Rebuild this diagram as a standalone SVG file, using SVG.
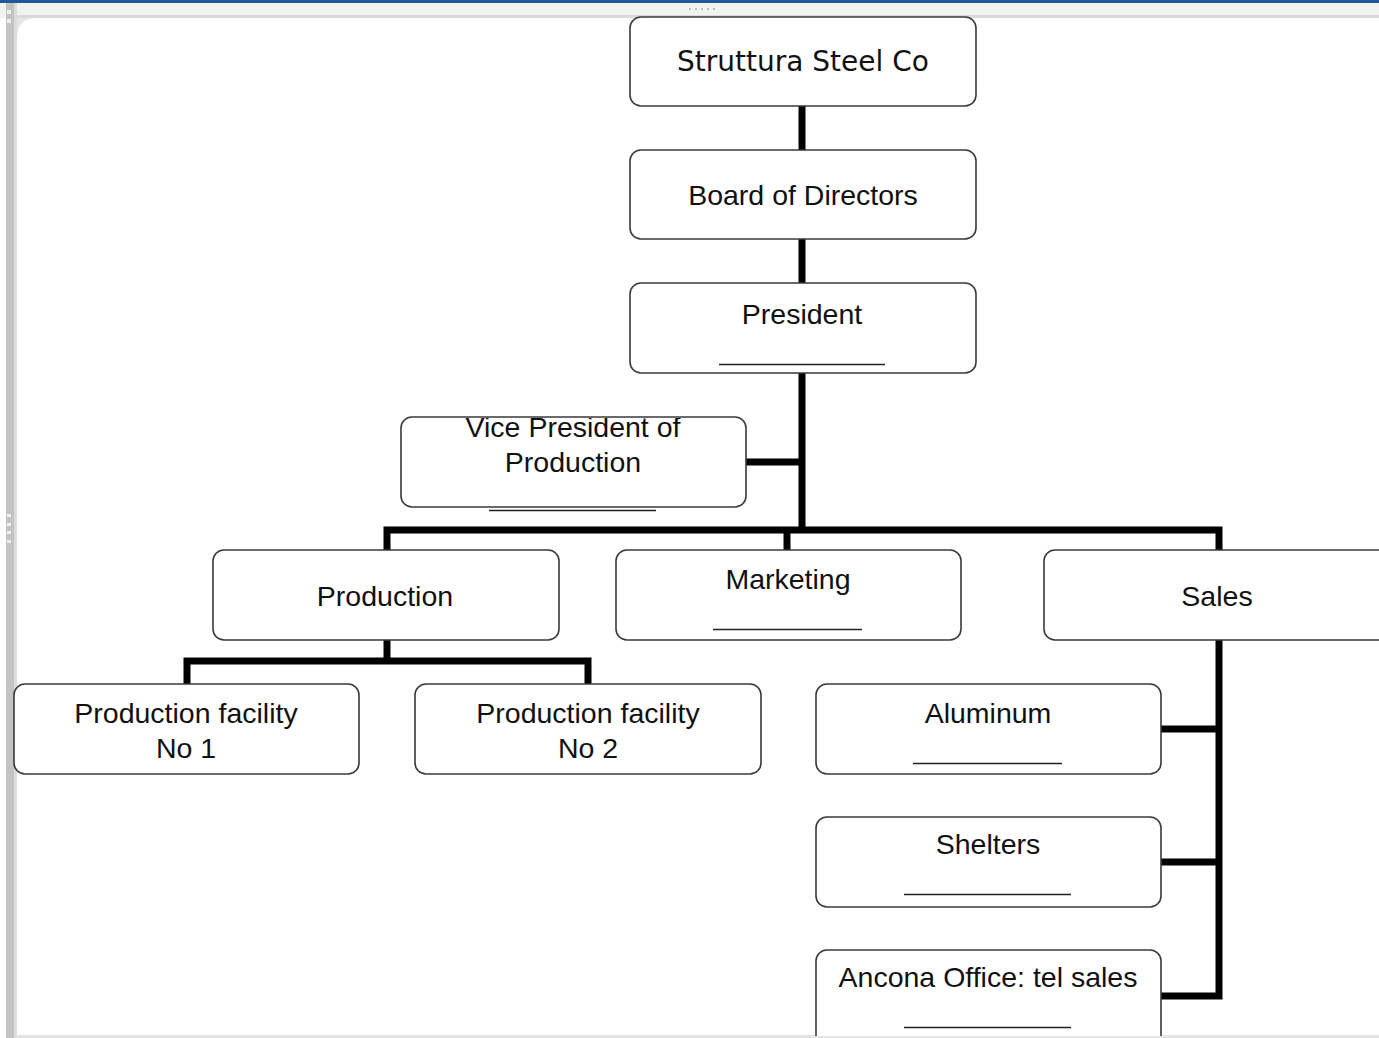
<svg xmlns="http://www.w3.org/2000/svg" width="1379" height="1038" viewBox="0 0 1379 1038">
<style>
.box{fill:#fff;stroke:#3a3a3a;stroke-width:1.6}
.t{font-family:"Liberation Sans",Arial,sans-serif;font-size:28.5px;fill:#111;text-anchor:middle}
.t2{font-family:"DejaVu Sans",Verdana,sans-serif;font-size:28px;fill:#111;text-anchor:middle}
.ul{stroke:#222;stroke-width:1.6}
.c{stroke:#000;stroke-width:7;fill:none;stroke-linecap:butt}
</style>
<defs>
<clipPath id="vpclip"><rect x="401" y="418" width="345" height="89"/></clipPath>
</defs>
<rect width="1379" height="1038" fill="#ffffff"/>
<rect x="0" y="0" width="1379" height="3" fill="#1d5a96"/>
<rect x="0" y="3" width="1379" height="15" fill="#f2f2f2"/>
<rect x="16" y="15" width="1363" height="3" fill="#dadada"/>
<rect x="6" y="3" width="10" height="1035" fill="#c3c3c3"/>
<rect x="14" y="3" width="3" height="1035" fill="#dcdcdc"/>
<path d="M17 38 Q17 18 37 18 L17 18 Z" fill="#e6e6e6"/>
<rect x="16" y="1035" width="1363" height="3" fill="#e4e4e4"/>
<g fill="#eeeeee"><rect x="7" y="514" width="4" height="3"/><rect x="7" y="523" width="4" height="3"/><rect x="7" y="531" width="4" height="3"/><rect x="7" y="540" width="4" height="3"/><rect x="7" y="10" width="4" height="4"/><rect x="7" y="19" width="4" height="4"/></g>
<g fill="#bbbbbb"><rect x="689" y="8" width="2" height="2"/><rect x="695" y="8" width="2" height="2"/><rect x="701" y="8" width="2" height="2"/><rect x="707" y="8" width="2" height="2"/><rect x="713" y="8" width="2" height="2"/></g>

<g id="connectors">
<line class="c" x1="802" y1="106" x2="802" y2="150"/>
<line class="c" x1="802" y1="239" x2="802" y2="283"/>
<line class="c" x1="802" y1="373" x2="802" y2="533"/>
<line class="c" x1="746" y1="462" x2="802" y2="462"/>
<polyline class="c" points="387,551 387,530 1219,530 1219,551"/>
<line class="c" x1="787" y1="530" x2="787" y2="551"/>
<polyline class="c" points="187,685 187,661 588,661 588,685"/>
<line class="c" x1="387" y1="640" x2="387" y2="661"/>
<polyline class="c" points="1219,640 1219,996 1161,996"/>
<line class="c" x1="1161" y1="729" x2="1219" y2="729"/>
<line class="c" x1="1161" y1="862" x2="1219" y2="862"/>
</g>

<g id="n-struttura"><rect class="box" x="630" y="17" width="346" height="89" rx="11"/><text class="t2" x="803" y="71">Struttura Steel Co</text></g>
<g id="n-board"><rect class="box" x="630" y="150" width="346" height="89" rx="11"/><text class="t" x="803" y="205">Board of Directors</text></g>
<g id="n-president"><rect class="box" x="630" y="283" width="346" height="90" rx="11"/><text class="t" x="802" y="324">President</text><line class="ul" x1="719" y1="364.5" x2="885" y2="364.5"/></g>
<g id="n-vp"><rect class="box" x="401" y="417" width="345" height="90" rx="11"/><text class="t" x="573" y="437" clip-path="url(#vpclip)">Vice President of</text><text class="t" x="573" y="472">Production</text><line class="ul" x1="489" y1="510.5" x2="656" y2="510.5"/></g>
<g id="n-production"><rect class="box" x="213" y="550" width="346" height="90" rx="11"/><text class="t" x="385" y="606">Production</text></g>
<g id="n-marketing"><rect class="box" x="616" y="550" width="345" height="90" rx="11"/><text class="t" x="788" y="589">Marketing</text><line class="ul" x1="713" y1="629.5" x2="862" y2="629.5"/></g>
<g id="n-sales"><rect class="box" x="1044" y="550" width="360" height="90" rx="11"/><text class="t" x="1217" y="606">Sales</text></g>
<g id="n-pf1"><rect class="box" x="14" y="684" width="345" height="90" rx="11"/><text class="t" x="186" y="723">Production facility</text><text class="t" x="186" y="758">No 1</text></g>
<g id="n-pf2"><rect class="box" x="415" y="684" width="346" height="90" rx="11"/><text class="t" x="588" y="723">Production facility</text><text class="t" x="588" y="758">No 2</text></g>
<g id="n-aluminum"><rect class="box" x="816" y="684" width="345" height="90" rx="11"/><text class="t" x="988" y="723">Aluminum</text><line class="ul" x1="913" y1="763.5" x2="1062" y2="763.5"/></g>
<g id="n-shelters"><rect class="box" x="816" y="817" width="345" height="90" rx="11"/><text class="t" x="988" y="854">Shelters</text><line class="ul" x1="904" y1="894.5" x2="1071" y2="894.5"/></g>
<g id="n-ancona"><rect class="box" x="816" y="950" width="345" height="100" rx="11"/><text class="t" x="988" y="987">Ancona Office: tel sales</text><line class="ul" x1="904" y1="1027.5" x2="1071" y2="1027.5"/></g>
<rect x="16" y="1036" width="1363" height="2" fill="#e4e4e4"/>
</svg>
